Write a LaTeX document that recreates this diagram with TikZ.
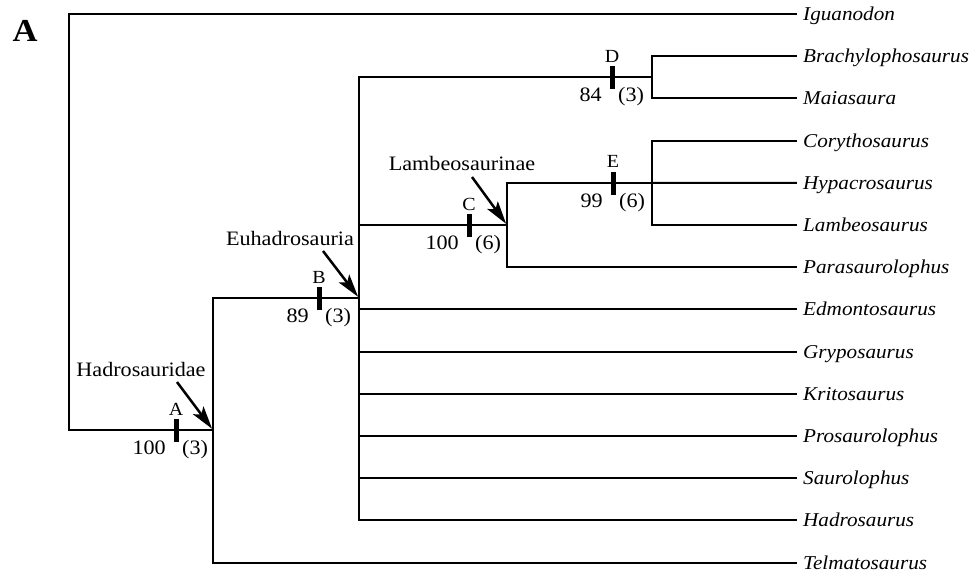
\documentclass[tikz,border=0pt]{standalone}
\usepackage{fontspec}
\setmainfont{Liberation Serif}[FakeStretch=1.08]
\usetikzlibrary{arrows.meta,calc}
\begin{document}
\begin{tikzpicture}[x=1pt,y=-1pt,
  br/.style={line width=1.9pt, line cap=rect, line join=miter},
  tickbar/.style={rectangle, fill=black, draw=none, inner sep=0pt, minimum width=5pt, minimum height=23pt},
  taxon/.style={anchor=west, font=\fontsize{19.6}{22}\selectfont\itshape, text height=13pt, text depth=0pt, inner sep=0pt},
  clade/.style={font=\fontsize{20.5}{23}\selectfont, text height=14pt, text depth=0pt, inner sep=0pt},
  ltr/.style={anchor=base, font=\fontsize{18.5}{20}\selectfont, inner sep=0pt},
  numl/.style={anchor=base east, font=\fontsize{20.5}{23}\selectfont, inner sep=0pt},
  numr/.style={anchor=base west, font=\fontsize{20.5}{23}\selectfont, inner sep=0pt},
  arr/.style={line width=2.5pt, shorten >=1.5pt, -{Stealth[length=23pt,width=13pt,inset=5pt]}}
]
\useasboundingbox (0,0) rectangle (980,574);

% tips
\foreach \n/\i/\t in {Igu/0/Iguanodon, Bra/1/Brachylophosaurus, Mai/2/Maiasaura,
  Cor/3/Corythosaurus, Hyp/4/Hypacrosaurus, Lam/5/Lambeosaurus, Par/6/Parasaurolophus,
  Edm/7/Edmontosaurus, Gry/8/Gryposaurus, Kri/9/Kritosaurus, Pro/10/Prosaurolophus,
  Sau/11/Saurolophus, Had/12/Hadrosaurus, Tel/13/Telmatosaurus}{
  \coordinate (t\n) at (796, 14+42.2*\i);
  \node[taxon] (L\n) at (803, 14+42.2*\i) {\t};
}

% internal nodes
\coordinate (root) at (69,430);
\coordinate (nA) at (213,430);
\coordinate (nB) at (359,298);
\coordinate (nC) at (507,225);
\coordinate (nD) at (652,77.3);
\coordinate (nE) at (652,182.8);

% branches
\draw[br] (tIgu) -| (root) -- (nA);
\draw[br] (nB) -| (nA) |- (tTel);
\draw[br] (nD) -| (nB) |- (tHad);
\draw[br] (nB |- nC) -- (nC);
\foreach \n in {Edm,Gry,Kri,Pro,Sau}{\draw[br] (nB |- t\n) -- (t\n);}
\draw[br] (nE) -| (nC) |- (tPar);
\draw[br] (tCor) -| (nE) |- (tLam);
\draw[br] (nE) -- (tHyp);
\draw[br] (tBra) -| (nD) |- (tMai);

% ticks with letters and support values
\foreach \k/\x/\y/\s/\b in {A/176/430/100/3, B/319/298/89/3, C/469/225/100/6, D/612/77.3/84/3, E/613/182.8/99/6}{
  \node[tickbar] (k\k) at (\x,\y+0.5) {};
  \node[ltr] (l\k) at ($(\x,\y)+(0,-15)$) {\k};
  \node[numl] (s\k) at ($(\x,\y)+(-10,24.5)$) {\s};
  \node[numr] (r\k) at ($(\x,\y)+(6,24.5)$) {(\b)};
}

% clade names with arrows
\node[clade] (cA) at (141,369) {Hadrosauridae};
\node[clade] (cB) at (290,238) {Euhadrosauria};
\node[clade] (cC) at (462,163) {Lambeosaurinae};
\coordinate (aA) at (177,382);
\coordinate (aB) at (323,251);
\coordinate (aC) at (472,177);
\draw[arr] (aA) -- (nA);
\draw[arr] (aB) -- (nB);
\draw[arr] (aC) -- (nC);

% panel letter
\node[font=\fontsize{32}{34}\selectfont\bfseries, inner sep=0pt] (panel) at (25,31) {A};
\end{tikzpicture}
\end{document}
